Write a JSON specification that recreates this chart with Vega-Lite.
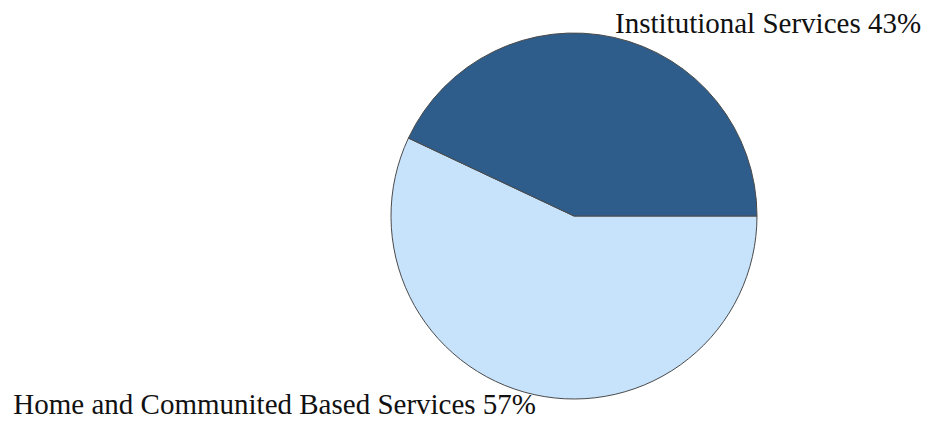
{
  "$schema": "https://vega.github.io/schema/vega-lite/v6.json",
  "autosize": "none",
  "width": 366,
  "height": 432,
  "padding": {"left": 391, "right": 169, "top": 0, "bottom": 0},
  "background": "white",
  "config": {"view": {"stroke": null}},
  "data": {
    "values": [
      {"category": "Home and Communited Based Services", "share": 57, "label": "Home and Communited Based Services 57%", "order": 1},
      {"category": "Institutional Services", "share": 43, "label": "Institutional Services 43%", "order": 2}
    ]
  },
  "encoding": {
    "theta": {"field": "share", "type": "quantitative", "stack": true, "scale": {"range": [1.5708, 7.85398]}},
    "order": {"field": "order", "type": "quantitative"}
  },
  "layer": [
    {
      "mark": {"type": "arc", "outerRadius": 183, "stroke": "#4a4a4a", "strokeWidth": 1},
      "encoding": {
        "color": {
          "field": "category",
          "type": "nominal",
          "scale": {"domain": ["Home and Communited Based Services", "Institutional Services"], "range": ["#c7e3fc", "#2e5d8c"]},
          "legend": null
        }
      }
    },
    {
      "mark": {"type": "text", "radius": 188, "align": "left", "baseline": "alphabetic", "font": "Liberation Serif", "fontSize": 29, "color": "#111"},
      "encoding": {"text": {"condition": {"test": "datum.order == 2", "field": "label"}, "value": ""}}
    },
    {
      "mark": {"type": "text", "radius": 174, "align": "right", "baseline": "alphabetic", "dy": 28, "font": "Liberation Serif", "fontSize": 29, "color": "#111"},
      "encoding": {"text": {"condition": {"test": "datum.order == 1", "field": "label"}, "value": ""}}
    }
  ]
}
